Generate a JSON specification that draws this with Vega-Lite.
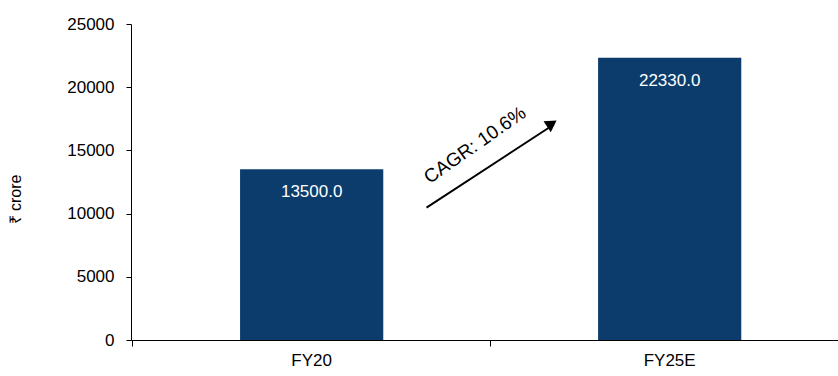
{
  "$schema": "https://vega.github.io/schema/vega-lite/v6.json",
  "autosize": "none",
  "width": 707,
  "height": 316,
  "padding": {"left": 131, "top": 24, "right": 0, "bottom": 36},
  "background": "white",
  "config": {
    "view": {"stroke": null},
    "font": "Liberation Sans",
    "axis": {"grid": false, "domainColor": "#000", "tickColor": "#000", "labelColor": "#000", "titleColor": "#000", "labelFont": "Liberation Sans", "titleFont": "Liberation Sans"}
  },
  "datasets": {
    "bars": [
      {"year": "FY20", "value": 13500.0},
      {"year": "FY25E", "value": 22330.0}
    ],
    "arrow": [
      {"x0": 0.418, "y0": 10470, "x1": 0.598, "y1": 17050}
    ],
    "head": [
      {"x": 0.5953, "y": 17120}
    ],
    "note": [
      {"x": 0.4866, "y": 15420, "label": "CAGR: 10.6%"}
    ]
  },
  "layer": [
    {
      "data": {"name": "bars"},
      "encoding": {
        "x": {
          "field": "year", "type": "nominal",
          "scale": {"paddingInner": 0.6, "paddingOuter": 0.2874, "align": 0.53},
          "axis": {"title": null, "labelAngle": 0, "labelFontSize": 17, "labelPadding": 6, "tickSize": 6, "bandPosition": -0.751, "domainWidth": 1}
        },
        "y": {
          "field": "value", "type": "quantitative",
          "scale": {"domain": [0, 25000], "nice": false},
          "axis": {"title": "₹ crore", "format": "d", "values": [0, 5000, 10000, 15000, 20000, 25000], "labelFontSize": 17, "labelPadding": 12, "tickSize": 5, "titleFontSize": 16, "titleFontWeight": "normal", "titleX": -116, "titleY": 175, "titleAngle": 270, "titleAlign": "center", "titleBaseline": "middle"}
        }
      },
      "layer": [
        {"mark": {"type": "bar", "color": "#0b3c6c"}},
        {
          "mark": {"type": "text", "color": "white", "fontSize": 17, "baseline": "middle", "dy": 23},
          "encoding": {"text": {"field": "value", "type": "quantitative", "format": ".1f"}}
        }
      ]
    },
    {
      "layer": [
        {
          "data": {"name": "arrow"},
          "mark": {"type": "rule", "color": "#000", "strokeWidth": 2},
          "encoding": {
            "x": {"field": "x0", "type": "quantitative", "scale": {"domain": [0, 1]}, "axis": null},
            "x2": {"field": "x1"},
            "y": {"field": "y0", "type": "quantitative"},
            "y2": {"field": "y1"}
          }
        },
        {
          "data": {"name": "head"},
          "mark": {"type": "point", "shape": "triangle-up", "filled": true, "color": "#000", "opacity": 1, "size": 170, "angle": 56.5},
          "encoding": {
            "x": {"field": "x", "type": "quantitative"},
            "y": {"field": "y", "type": "quantitative"}
          }
        },
        {
          "data": {"name": "note"},
          "mark": {"type": "text", "color": "#000", "fontSize": 19, "angle": -35, "align": "center", "baseline": "middle"},
          "encoding": {
            "x": {"field": "x", "type": "quantitative"},
            "y": {"field": "y", "type": "quantitative"},
            "text": {"field": "label"}
          }
        }
      ]
    }
  ],
  "resolve": {"scale": {"x": "independent"}}
}
